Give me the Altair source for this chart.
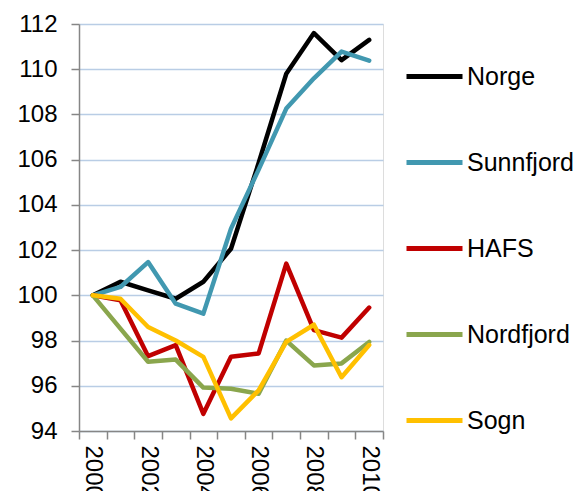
import altair as alt
import pandas as pd

years = list(range(2000, 2011))
series = ["Norge", "Sunnfjord", "HAFS", "Nordfjord", "Sogn"]
colors = ["#000000", "#4198B0", "#C00000", "#8AA64D", "#FFC000"]

norge = [100, 100.6, 100.22, 99.85, 100.6, 102.06, 105.85, 109.8, 111.6, 110.4, 111.3]
sunnfjord = [100, 100.37, 101.47, 99.63, 99.19, 102.95, 105.56, 108.26, 109.6, 110.78, 110.38]
hafs = [100, 99.78, 97.31, 97.8, 94.76, 97.28, 97.43, 101.4, 98.46, 98.13, 99.46]
nordfjord = [100, 98.53, 97.06, 97.16, 95.92, 95.87, 95.65, 98.0, 96.9, 96.99, 97.94]
sogn = [100, 99.85, 98.6, 98.0, 97.28, 94.56, 95.8, 97.94, 98.7, 96.38, 97.8]

values = [norge, sunnfjord, hafs, nordfjord, sogn]
rows = []
for s, vals in zip(series, values):
    for y, v in zip(years, vals):
        rows.append({"year": y, "series": s, "value": v})
df = pd.DataFrame(rows)

FONT = "Liberation Sans"

base = alt.Chart(df).mark_line(strokeWidth=4.5, strokeJoin="round", strokeCap="round").encode(
    x=alt.X("year:O", bandPosition=0.5,
            scale=alt.Scale(type="band", paddingInner=0, paddingOuter=0),
            axis=alt.Axis(title=None, labelAngle=90, tickBand="extent", grid=False,
                          labelExpr="datum.value % 2 == 0 ? datum.label : ''",
                          labelFontSize=24, labelFont=FONT, labelColor="#000000",
                          domainColor="#868686", tickColor="#868686", tickSize=8,
                          labelPadding=6, domainWidth=1.5, tickWidth=1.5)),
    y=alt.Y("value:Q", scale=alt.Scale(domain=[94, 112], nice=False, zero=False),
            axis=alt.Axis(title=None, values=list(range(94, 113, 2)), labelFontSize=24,
                          labelFont=FONT, labelColor="#000000", domainColor="#868686",
                          tickColor="#868686", tickSize=8, labelPadding=14,
                          gridColor="#B9CDE5", gridWidth=1.5, domainWidth=1.5, tickWidth=1.5)),
    color=alt.Color("series:N", scale=alt.Scale(domain=series, range=colors),
                    legend=alt.Legend(title=None, orient="none", legendX=325, legendY=22,
                                      symbolType="stroke", symbolSize=3136,
                                      symbolStrokeWidth=5, labelFontSize=25, labelFont=FONT,
                                      labelColor="#000000", labelOffset=2, rowPadding=42,
                                      labelLimit=300)),
)

layers = [base.transform_filter(alt.datum.series == s) for s in series]

chart = alt.layer(*layers).properties(
    width=304, height=407,
    autosize=alt.AutoSizeParams(type="none"),
    padding={"left": 71, "top": 16, "right": 190, "bottom": 60},
).configure_view(stroke=None).configure(background="#ffffff")

chart.save("out.html", embed_options={"renderer": "svg", "actions": False})
